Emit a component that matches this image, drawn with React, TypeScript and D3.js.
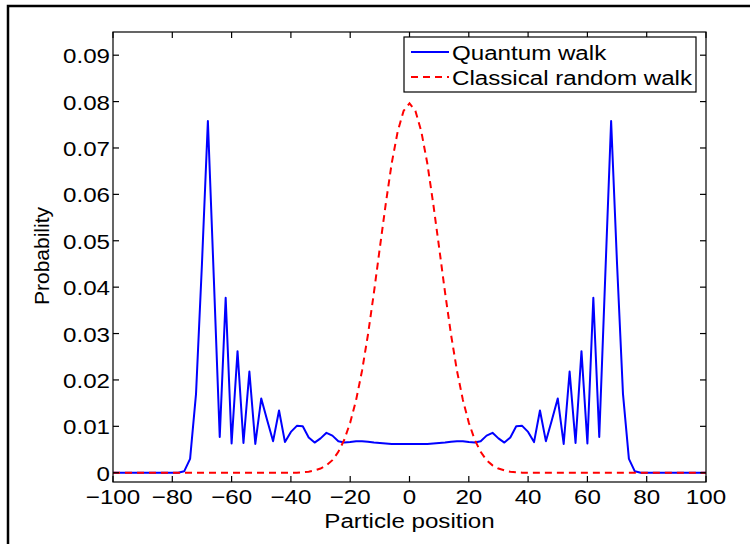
import React from 'react';
import * as d3 from 'd3';

const positions: number[] = d3.range(-100, 101, 2);

const quantumWalk: number[] = [
  0, 0, 0, 0, 0, 0, 0, 0, 0, 0, 0, 0,
  0.0003, 0.003, 0.017, 0.045, 0.0758, 0.042, 0.0077, 0.0377, 0.0063, 0.0262,
  0.0064, 0.0218, 0.0062, 0.016, 0.0113, 0.0068, 0.0134, 0.0066, 0.0088, 0.0101,
  0.01, 0.0076, 0.0065, 0.0074, 0.0086, 0.008, 0.0068, 0.0065, 0.0066, 0.0068,
  0.0068, 0.0067, 0.0065, 0.0064, 0.0063, 0.0062, 0.0062, 0.0062, 0.0062,
  0.0062, 0.0062, 0.0062, 0.0063, 0.0064, 0.0065, 0.0067, 0.0068, 0.0068, 0.0066,
  0.0065, 0.0068, 0.008, 0.0086, 0.0074, 0.0065, 0.0076, 0.01, 0.0101, 0.0088,
  0.0066, 0.0134, 0.0068, 0.0113, 0.016, 0.0062, 0.0218, 0.0064, 0.0262, 0.0063,
  0.0377, 0.0077, 0.042, 0.0758, 0.045, 0.017, 0.003, 0.0003,
  0, 0, 0, 0, 0, 0, 0, 0, 0, 0, 0, 0,
];

const classicalWalk: number[] = [
  0, 0, 0, 0, 0, 0, 0, 0, 0, 0, 0, 0, 0, 0, 0, 0,
  0, 0, 0, 0, 0, 0, 0, 0, 0, 0, 0, 0, 0, 0, 0, 0,
  0.0001, 0.0002, 0.0005, 0.0009, 0.0016, 0.0027, 0.0045, 0.0071, 0.0108, 0.0157,
  0.022, 0.0298, 0.0388, 0.0485, 0.058, 0.0667, 0.0735, 0.078,
  0.0796,
  0.078, 0.0735, 0.0667, 0.058, 0.0485, 0.0388, 0.0298, 0.022, 0.0157, 0.0108,
  0.0071, 0.0045, 0.0027, 0.0016, 0.0009, 0.0005, 0.0002, 0.0001,
  0, 0, 0, 0, 0, 0, 0, 0, 0, 0, 0, 0, 0, 0, 0, 0,
  0, 0, 0, 0, 0, 0, 0, 0, 0, 0, 0, 0, 0, 0, 0, 0,
];

const xTicks: number[] = [-100, -80, -60, -40, -20, 0, 20, 40, 60, 80, 100];
const yTicks: number[] = [0, 0.01, 0.02, 0.03, 0.04, 0.05, 0.06, 0.07, 0.08, 0.09];
const seriesNames: string[] = ['Quantum walk', 'Classical random walk'];
const xLabel = 'Particle position';
const yLabel = 'Probability';

const FONT = '"Liberation Sans", Arial, Helvetica, sans-serif';

export default function App() {
  const W = 750;
  const H = 544;
  const left = 113;
  const right = 706;
  const top = 32;
  const bottom = 482;
  const x = d3.scaleLinear().domain([-100, 100]).range([left, right]);
  const y = d3.scaleLinear().domain([-0.002, 0.095]).range([bottom, top]);
  const line = d3
    .line<number>()
    .x((_, i) => x(positions[i]))
    .y((d) => y(d));
  const fmtY = (d: number) => (d === 0 ? '0' : d3.format('.2f')(d));
  const fmtX = d3.format('d');
  const fs = 21;
  const sx = 1.15;
  const tick = 6;

  const legX = 404;
  const legY = 37;
  const legW = 292;
  const legH = 55;

  return (
    <svg
      width={W}
      height={H}
      style={{ position: 'absolute', left: 0, top: 0, background: '#fff' }}
      fontFamily={FONT}
    >
      <rect x={0} y={0} width={W} height={H} fill="#fff" />
      {/* outer frame */}
      <rect x={8} y={6} width={W + 20} height={H + 20} fill="none" stroke="#000" strokeWidth={2.5} />

      {/* series */}
      <path d={line(quantumWalk) || ''} fill="none" stroke="#0000ff" strokeWidth={2} strokeLinejoin="round" />
      <path
        d={line(classicalWalk) || ''}
        fill="none"
        stroke="#ff0000"
        strokeWidth={2}
        strokeDasharray="7,5"
      />

      {/* axes box */}
      <rect x={left} y={top} width={right - left} height={bottom - top} fill="none" stroke="#000" strokeWidth={1.2} />

      {xTicks.map((t) => (
        <g key={'x' + t}>
          <line x1={x(t)} x2={x(t)} y1={bottom} y2={bottom - tick} stroke="#000" strokeWidth={1.2} />
          <line x1={x(t)} x2={x(t)} y1={top} y2={top + tick} stroke="#000" strokeWidth={1.2} />
          <text
            transform={`translate(${x(t)},${bottom + 22}) scale(${sx},1)`}
            textAnchor="middle"
            fontSize={fs}
            fill="#000"
          >
            {fmtX(t)}
          </text>
        </g>
      ))}
      {yTicks.map((t) => (
        <g key={'y' + t}>
          <line x1={left} x2={left + tick} y1={y(t)} y2={y(t)} stroke="#000" strokeWidth={1.2} />
          <line x1={right} x2={right - tick} y1={y(t)} y2={y(t)} stroke="#000" strokeWidth={1.2} />
          <text
            transform={`translate(${left - 3},${y(t) + 8}) scale(${sx},1)`}
            textAnchor="end"
            fontSize={fs}
            fill="#000"
          >
            {fmtY(t)}
          </text>
        </g>
      ))}

      <text
        transform={`translate(${(left + right) / 2},${528}) scale(${sx},1)`}
        textAnchor="middle"
        fontSize={fs}
        fill="#000"
      >
        {xLabel}
      </text>
      <text transform={`translate(49,${256}) rotate(-90)`} textAnchor="middle" fontSize={fs} fill="#000">
        {yLabel}
      </text>

      {/* legend */}
      <rect x={legX} y={legY} width={legW} height={legH} fill="#fff" stroke="#000" strokeWidth={1.2} />
      {seriesNames.map((name, i) => {
        const ry = legY + 15 + i * 25;
        return (
          <g key={name}>
            <line
              x1={legX + 7}
              x2={legX + 45}
              y1={ry}
              y2={ry}
              stroke={i === 0 ? '#0000ff' : '#ff0000'}
              strokeWidth={2}
              strokeDasharray={i === 0 ? undefined : '7,5'}
            />
            <text
              transform={`translate(${legX + 48},${ry + 8}) scale(${sx},1)`}
              fontSize={fs}
              fill="#000"
            >
              {name}
            </text>
          </g>
        );
      })}
    </svg>
  );
}
